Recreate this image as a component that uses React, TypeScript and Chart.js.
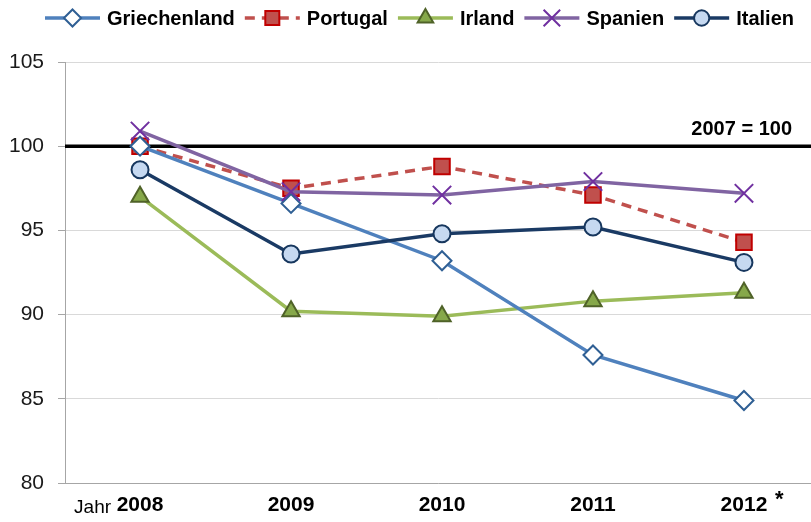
import React, { useEffect, useRef } from "react";
import { Chart, registerables } from "chart.js";
import { drawPoint } from "chart.js/helpers";
Chart.register(...registerables);

const years = ["2008", "2009", "2010", "2011", "2012"];
const griechenland = [100.0, 96.6, 93.2, 87.6, 84.9];
const portugal = [100.0, 97.5, 98.8, 97.1, 94.3];
const irland = [97.0, 90.2, 89.9, 90.8, 91.3];
const spanien = [100.9, 97.3, 97.1, 97.9, 97.2];
const italien = [98.6, 93.6, 94.8, 95.2, 93.1];
const yMin = 80;
const yMax = 105;
const yStep = 5;
const baseValue = 100;
const baseLabel = "2007 = 100";
const xPrefix = "Jahr";
const lastMark = "*";

const FONT = "'Liberation Sans', Arial, sans-serif";

const toPoints = (vals: number[]) => vals.map((v, i) => ({ x: i, y: v }));

const overlayPlugin = {
  id: "overlay",
  beforeDatasetsDraw(chart: any) {
    const { ctx, chartArea, scales } = chart;
    const py = scales.y.getPixelForValue(baseValue);
    ctx.save();
    ctx.strokeStyle = "#000";
    ctx.lineWidth = 3.5;
    ctx.beginPath();
    ctx.moveTo(chartArea.left, py);
    ctx.lineTo(chartArea.right, py);
    ctx.stroke();
    ctx.font = `bold 20px ${FONT}`;
    ctx.fillStyle = "#000";
    ctx.textAlign = "right";
    ctx.textBaseline = "alphabetic";
    ctx.fillText(baseLabel, 792, py - 11);
    ctx.restore();
  },
  afterDraw(chart: any) {
    const { ctx, scales } = chart;
    ctx.save();
    let x = 45;
    const ly = 18;
    ctx.font = `bold 20px ${FONT}`;
    chart.data.datasets.forEach((ds: any) => {
      const lineLen = 55;
      ctx.save();
      ctx.strokeStyle = ds.borderColor;
      ctx.lineWidth = ds.borderWidth;
      ctx.setLineDash(ds.borderDash || []);
      ctx.beginPath();
      ctx.moveTo(x, ly);
      ctx.lineTo(x + lineLen, ly);
      ctx.stroke();
      ctx.setLineDash([]);
      ctx.fillStyle = ds.pointBackgroundColor;
      ctx.strokeStyle = ds.pointBorderColor;
      ctx.lineWidth = ds.pointBorderWidth;
      drawPoint(
        ctx,
        { pointStyle: ds.pointStyle, rotation: 0, radius: ds.pointRadius * 0.9, borderWidth: ds.pointBorderWidth },
        x + lineLen / 2,
        ly
      );
      ctx.restore();
      ctx.fillStyle = "#000";
      ctx.textAlign = "left";
      ctx.textBaseline = "middle";
      const tx = x + lineLen + 7;
      ctx.fillText(ds.label, tx, ly + 1);
      x = tx + ctx.measureText(ds.label).width + 10;
    });
    const x0 = scales.x.getPixelForValue(0);
    const xl = scales.x.getPixelForValue(years.length - 1);
    ctx.fillStyle = "#000";
    ctx.textBaseline = "alphabetic";
    ctx.textAlign = "right";
    ctx.font = `19px ${FONT}`;
    ctx.fillText(xPrefix, x0 - 29, 513);
    ctx.textAlign = "left";
    ctx.font = `bold 22px ${FONT}`;
    ctx.fillText(lastMark, xl + 31, 506);
    ctx.restore();
  },
};

export default function App() {
  const ref = useRef<HTMLCanvasElement | null>(null);
  useEffect(() => {
    if (!ref.current) return;
    const chart = new Chart(ref.current, {
      type: "line",
      data: {
        datasets: [
          {
            label: "Griechenland",
            data: toPoints(griechenland),
            borderColor: "#4F81BD",
            borderWidth: 3.5,
            pointStyle: "rectRot",
            pointRadius: 9.5,
            pointBackgroundColor: "#FFFFFF",
            pointBorderColor: "#2F5F94",
            pointBorderWidth: 2,
            order: 2,
          },
          {
            label: "Portugal",
            data: toPoints(portugal),
            borderColor: "#C0504D",
            borderWidth: 3.5,
            borderDash: [10, 7],
            pointStyle: "rect",
            pointRadius: 11,
            pointBackgroundColor: "#C0504D",
            pointBorderColor: "#C00000",
            pointBorderWidth: 2,
            order: 3,
          },
          {
            label: "Irland",
            data: toPoints(irland),
            borderColor: "#9BBB59",
            borderWidth: 3.5,
            pointStyle: "triangle",
            pointRadius: 10,
            pointBackgroundColor: "#86A84A",
            pointBorderColor: "#4F6228",
            pointBorderWidth: 2,
            order: 4,
          },
          {
            label: "Spanien",
            data: toPoints(spanien),
            borderColor: "#8064A2",
            borderWidth: 3.5,
            pointStyle: "crossRot",
            pointRadius: 13,
            pointBackgroundColor: "#7030A0",
            pointBorderColor: "#7030A0",
            pointBorderWidth: 2,
            order: 1,
          },
          {
            label: "Italien",
            data: toPoints(italien),
            borderColor: "#1A3A64",
            borderWidth: 3.5,
            pointStyle: "circle",
            pointRadius: 8.5,
            pointBackgroundColor: "#C6D9F1",
            pointBorderColor: "#17375E",
            pointBorderWidth: 2,
            order: 0,
          },
        ],
      },
      options: {
        responsive: false,
        animation: false,
        layout: { autoPadding: false, padding: { top: 62, left: 0, right: 0, bottom: 0 } },
        plugins: { legend: { display: false }, tooltip: { enabled: false } },
        scales: {
          x: {
            type: "linear",
            min: -0.497,
            max: 4.444,
            grid: { display: false, drawTicks: false },
            border: { display: true, color: "#A6A6A6", width: 1 },
            afterBuildTicks: (s: any) => {
              s.ticks = years.map((_, i) => ({ value: i }));
            },
            ticks: {
              color: "#000",
              font: { family: FONT, size: 21, weight: "bold" },
              padding: 10,
              maxRotation: 0,
              autoSkip: false,
              callback: (v: any) => years[v] ?? "",
            },
            afterFit: (s: any) => {
              s.height = 39;
            },
          },
          y: {
            min: yMin,
            max: yMax,
            grid: { color: "#D9D9D9", lineWidth: 1, tickColor: "#A6A6A6", tickLength: 7, drawTicks: true },
            border: { display: true, color: "#A6A6A6", width: 1 },
            ticks: {
              stepSize: yStep,
              color: "#1a1a1a",
              font: { family: FONT, size: 21 },
              padding: 14,
            },
            afterFit: (s: any) => {
              s.width = 65;
            },
          },
        },
      },
      plugins: [overlayPlugin],
    });
    return () => chart.destroy();
  }, []);
  return (
    <div style={{ position: "absolute", left: 0, top: 0, width: 811, height: 522, background: "#fff" }}>
      <canvas ref={ref} width={811} height={522} style={{ display: "block", width: 811, height: 522 }} />
    </div>
  );
}
